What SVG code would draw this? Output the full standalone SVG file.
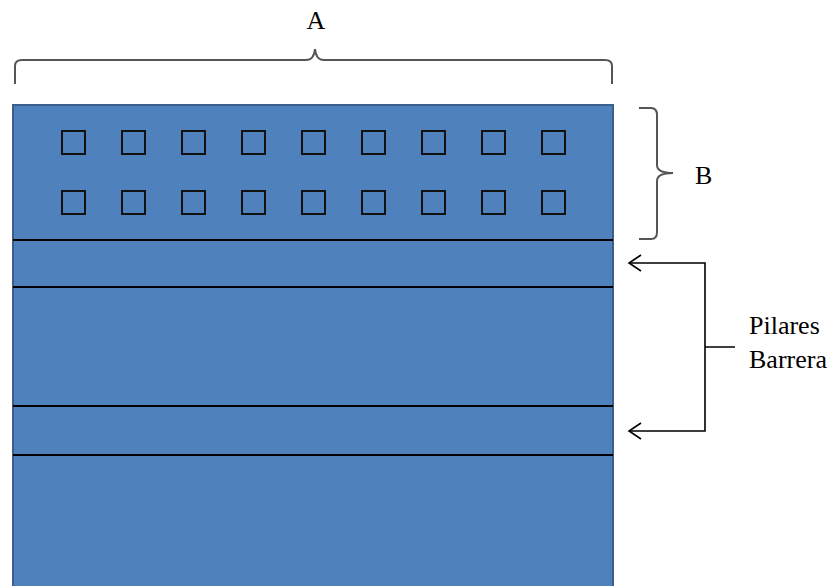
<svg xmlns="http://www.w3.org/2000/svg" width="838" height="586" viewBox="0 0 838 586">
<style>
.lbl{font-family:'Liberation Serif','DejaVu Serif',serif;font-size:26px;fill:#000}
.sq{fill:none;stroke:#111;stroke-width:2}
.div{stroke:#000;stroke-width:2}
.brace{fill:none;stroke:#555;stroke-width:2}
.con{fill:none;stroke:#000;stroke-width:1.6}
</style>
<defs>
<rect id="s" width="23" height="23" class="sq"/>
</defs>
<rect width="838" height="586" fill="#fff"/>
<g id="block">
<rect x="13" y="105" width="600" height="482" fill="#4F81BD" stroke="#3A5F8C" stroke-width="2"/>
<line class="div" x1="13" y1="240" x2="613" y2="240"/>
<line class="div" x1="13" y1="287" x2="613" y2="287"/>
<line class="div" x1="13" y1="406" x2="613" y2="406"/>
<line class="div" x1="13" y1="455" x2="613" y2="455"/>
</g>
<g id="squares">
<use href="#s" x="62" y="131"/><use href="#s" x="122" y="131"/><use href="#s" x="182" y="131"/><use href="#s" x="242" y="131"/><use href="#s" x="302" y="131"/><use href="#s" x="362" y="131"/><use href="#s" x="422" y="131"/><use href="#s" x="482" y="131"/><use href="#s" x="542" y="131"/>
<use href="#s" x="62" y="191"/><use href="#s" x="122" y="191"/><use href="#s" x="182" y="191"/><use href="#s" x="242" y="191"/><use href="#s" x="302" y="191"/><use href="#s" x="362" y="191"/><use href="#s" x="422" y="191"/><use href="#s" x="482" y="191"/><use href="#s" x="542" y="191"/>
</g>
<g id="labelA">
<path class="brace" d="M15,84 L15,66 Q15,60 22,60 L306,60 Q314,60 315,49 Q316,60 324,60 L605,60 Q612,60 612,66 L612,84"/>
<text class="lbl" x="316" y="29" text-anchor="middle" font-family="Liberation Serif, serif">A</text>
</g>
<g id="labelB">
<path class="brace" d="M639,108 L651,108 Q657,108 657,115 L657,165 Q657,173 673,173 Q657,173 657,181 L657,232 Q657,239 651,239 L639,239"/>
<text class="lbl" x="695" y="184" font-family="Liberation Serif, serif">B</text>
</g>
<g id="connectors">
<path class="con" d="M629,263 L705,263 L705,431 L629,431 M705,347 L735,347"/>
<path class="con" d="M641,255 L629,263 L641,271 M641,423 L629,431 L641,439"/>
</g>
<g id="labelPilares">
<text class="lbl" x="749" y="334" font-family="Liberation Serif, serif">Pilares</text>
<text class="lbl" x="749" y="368" font-family="Liberation Serif, serif">Barrera</text>
</g>
</svg>
